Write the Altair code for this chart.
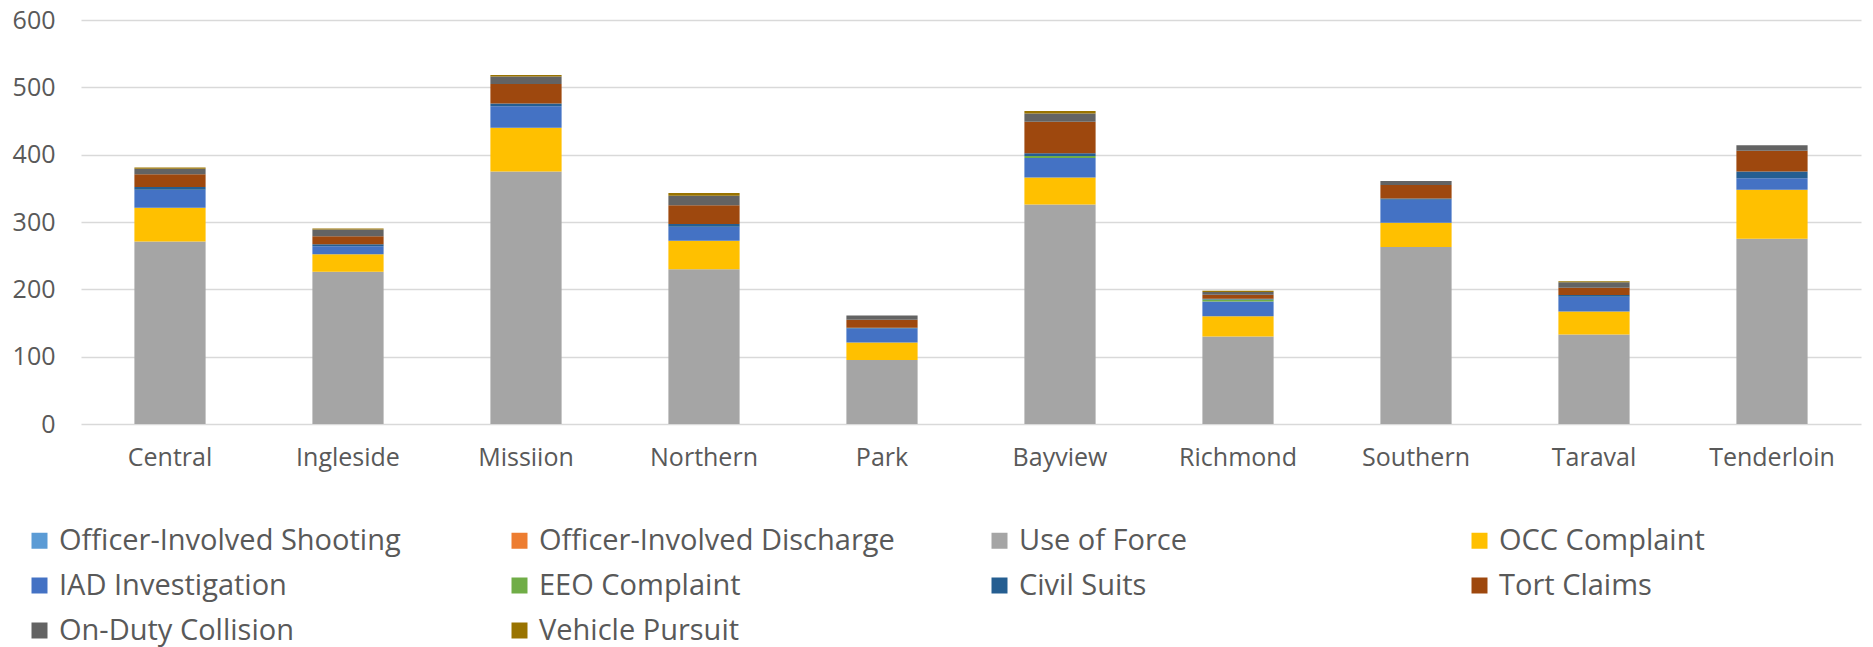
import altair as alt
import pandas as pd

districts = ["Central", "Ingleside", "Missiion", "Northern", "Park",
             "Bayview", "Richmond", "Southern", "Taraval", "Tenderloin"]

series = ["Officer-Involved Shooting", "Officer-Involved Discharge", "Use of Force",
          "OCC Complaint", "IAD Investigation", "EEO Complaint", "Civil Suits",
          "Tort Claims", "On-Duty Collision", "Vehicle Pursuit"]

colors = ["#5B9BD5", "#ED7D31", "#A5A5A5", "#FFC000", "#4472C4",
          "#70AD47", "#255E91", "#9E480E", "#636363", "#997300"]

shooting  = [0, 0, 0, 0, 0, 0, 0, 0, 0, 0]
discharge = [0, 0, 0, 0, 0, 0, 0, 0, 0, 0]
use_force = [271, 226, 375, 230, 95, 326, 130, 263, 133, 275]
occ       = [50, 26, 65, 42, 26, 40, 30, 36, 34, 73]
iad       = [27, 12, 32, 21, 21, 29, 22, 34, 22, 17]
eeo       = [0, 0, 0, 0, 0, 3, 3, 0, 0, 0]
civil     = [4, 3, 4, 4, 1, 4, 1, 2, 2.5, 10]
tort      = [19, 12, 29, 28, 12, 47, 6, 20, 11, 31]
collision = [8, 10, 11, 14, 6, 12, 4, 6, 8, 8]
pursuit   = [2, 1.5, 2.5, 4, 0, 4, 2, 0, 1.5, 0]

values = [shooting, discharge, use_force, occ, iad, eeo, civil, tort, collision, pursuit]

rows = []
for si, (name, vals) in enumerate(zip(series, values)):
    for d, v in zip(districts, vals):
        rows.append({"District": d, "Series": name, "Value": v, "idx": si})
df = pd.DataFrame(rows)

FONT = "Open Sans"
TXT = "#595959"

chart = alt.Chart(df).mark_bar().encode(
    x=alt.X("District:N", sort=districts,
            scale=alt.Scale(paddingInner=0.6, paddingOuter=0.3),
            axis=alt.Axis(title=None, labelAngle=0, ticks=False, domain=False,
                          labelFontSize=25, labelPadding=21, labelColor=TXT,
                          labelFont=FONT)),
    y=alt.Y("Value:Q", stack="zero",
            scale=alt.Scale(domain=[0, 600], nice=False),
            axis=alt.Axis(title=None, values=[0, 100, 200, 300, 400, 500, 600],
                          ticks=False, domain=False, labelFontSize=25,
                          labelPadding=26, labelColor=TXT, labelFont=FONT,
                          gridColor="#D9D9D9", gridWidth=1.4)),
    color=alt.Color("Series:N", sort=series,
                    scale=alt.Scale(domain=series, range=colors),
                    legend=alt.Legend(title=None, orient="none", legendX=-56, legendY=506,
                                      direction="horizontal", values=series,
                                      columns=4, gridAlign="all", columnPadding=90,
                                      rowPadding=15, symbolType="square", symbolSize=256,
                                      symbolStrokeWidth=0, labelFontSize=29,
                                      labelFont=FONT, labelColor=TXT, labelOffset=5,
                                      labelLimit=600)),
    order=alt.Order("idx:Q", sort="ascending"),
).properties(
    width=1780, height=404,
    autosize=alt.AutoSizeParams(type="none"),
    padding={"left": 73, "top": 12, "right": 4, "bottom": 223},
).configure_view(stroke=None)

chart.save("out.html", embed_options={"renderer": "svg", "actions": False})
